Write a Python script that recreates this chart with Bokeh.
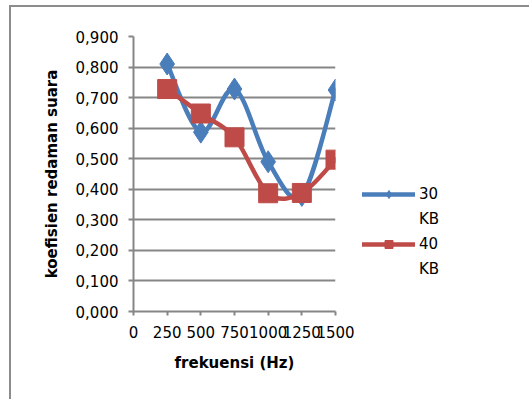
from bokeh.plotting import figure
from bokeh.models import (FixedTicker, CustomJSTickFormatter, Legend, LegendItem,
                          ColumnDataSource)
from bokeh.embed import file_html
from bokeh.resources import INLINE

freq = [250, 500, 750, 1000, 1250, 1500]
kb30 = [0.810, 0.587, 0.728, 0.490, 0.380, 0.725]
kb40 = [0.728, 0.648, 0.570, 0.387, 0.388, 0.497]
series_names = [("30", "KB"), ("40", "KB")]
y_ticks = [0.0, 0.1, 0.2, 0.3, 0.4, 0.5, 0.6, 0.7, 0.8, 0.9]
x_ticks = [0, 250, 500, 750, 1000, 1250, 1500]

BLUE = "#4a7ebb"
RED = "#be4b48"
GRID = "#868686"
FONT = "DejaVu Sans"


def smooth_segments(xs, ys):
    # Catmull-Rom style Bezier control points (like a smoothed line)
    n = len(xs)
    d = dict(x0=[], y0=[], x1=[], y1=[], cx0=[], cy0=[], cx1=[], cy1=[])
    for i in range(n - 1):
        xp, yp = (xs[i - 1], ys[i - 1]) if i > 0 else (xs[i], ys[i])
        xn, yn = (xs[i + 2], ys[i + 2]) if i + 2 < n else (xs[i + 1], ys[i + 1])
        d["x0"].append(xs[i]); d["y0"].append(ys[i])
        d["x1"].append(xs[i + 1]); d["y1"].append(ys[i + 1])
        d["cx0"].append(xs[i] + (xs[i + 1] - xp) / 6.0)
        d["cy0"].append(ys[i] + (ys[i + 1] - yp) / 6.0)
        d["cx1"].append(xs[i + 1] - (xn - xs[i]) / 6.0)
        d["cy1"].append(ys[i + 1] - (yn - ys[i]) / 6.0)
    return ColumnDataSource(d)


p = figure(frame_width=202, frame_height=275, x_range=(0, 1500), y_range=(0, 0.9),
           output_backend="svg", toolbar_location=None,
           min_border_left=122, min_border_right=190,
           min_border_top=29, min_border_bottom=88)
p.outline_line_color = None
p.background_fill_color = "white"
p.border_fill_color = "white"
p.styles = {"margin-left": "9px", "margin-top": "5px",
            "border-left": "2px solid #8c8c8c", "border-top": "2px solid #8c8c8c"}

# axes
p.xaxis.ticker = FixedTicker(ticks=x_ticks)
p.yaxis.ticker = FixedTicker(ticks=y_ticks)
p.yaxis.formatter = CustomJSTickFormatter(code="return tick.toFixed(3).replace('.', ',');")
for ax in (p.xaxis[0], p.yaxis[0]):
    ax.axis_line_color = GRID
    ax.axis_line_width = 2
    ax.major_tick_line_color = GRID
    ax.major_tick_line_width = 2
    ax.minor_tick_line_color = None
    ax.major_label_text_font = FONT
    ax.major_label_text_font_size = "15px"
    ax.major_label_text_color = "black"
    ax.axis_label_text_font = FONT
    ax.axis_label_text_font_size = "15px"
    ax.axis_label_text_font_style = "bold"
    ax.axis_label_text_color = "black"
p.xaxis.major_tick_in = 0
p.xaxis.major_tick_out = 4
p.yaxis.major_tick_in = 0
p.yaxis.major_tick_out = 5
p.yaxis.major_label_standoff = 10
p.xaxis.major_label_standoff = 10
p.xaxis.axis_label = "frekuensi (Hz)"
p.yaxis.axis_label = "koefisien redaman suara"
p.xaxis.axis_label_standoff = 13
p.yaxis.axis_label_standoff = 12

p.xgrid.grid_line_color = None
p.ygrid.grid_line_color = GRID
p.ygrid.grid_line_width = 2

items = []
for vals, color, marker, msize, (name1, name2) in [
        (kb30, BLUE, "diamond", 22, series_names[0]),
        (kb40, RED, "square", 19, series_names[1])]:
    src = smooth_segments(freq, vals)
    r_line = p.bezier(x0="x0", y0="y0", x1="x1", y1="y1", cx0="cx0", cy0="cy0",
                      cx1="cx1", cy1="cy1", source=src, line_color=color,
                      line_width=4.5, line_cap="round")
    r_mark = p.scatter(freq, vals, marker=marker, size=msize,
                       fill_color=color, line_color=color)
    r_blank = p.bezier(x0="x0", y0="y0", x1="x1", y1="y1", cx0="cx0", cy0="cy0",
                       cx1="cx1", cy1="cy1", source=src, line_alpha=0)
    items.append(LegendItem(label=name1, renderers=[r_line, r_mark]))
    items.append(LegendItem(label=name2, renderers=[r_blank]))

legend = Legend(items=items, location=(27, 32), orientation="vertical",
                glyph_width=53, glyph_height=20, label_standoff=4,
                spacing=5, padding=0, margin=0,
                label_text_font=FONT, label_text_font_size="15px",
                label_text_color="black",
                background_fill_alpha=0, border_line_color=None)
p.add_layout(legend, "right")

open("out.html", "w").write(file_html(p, INLINE))
